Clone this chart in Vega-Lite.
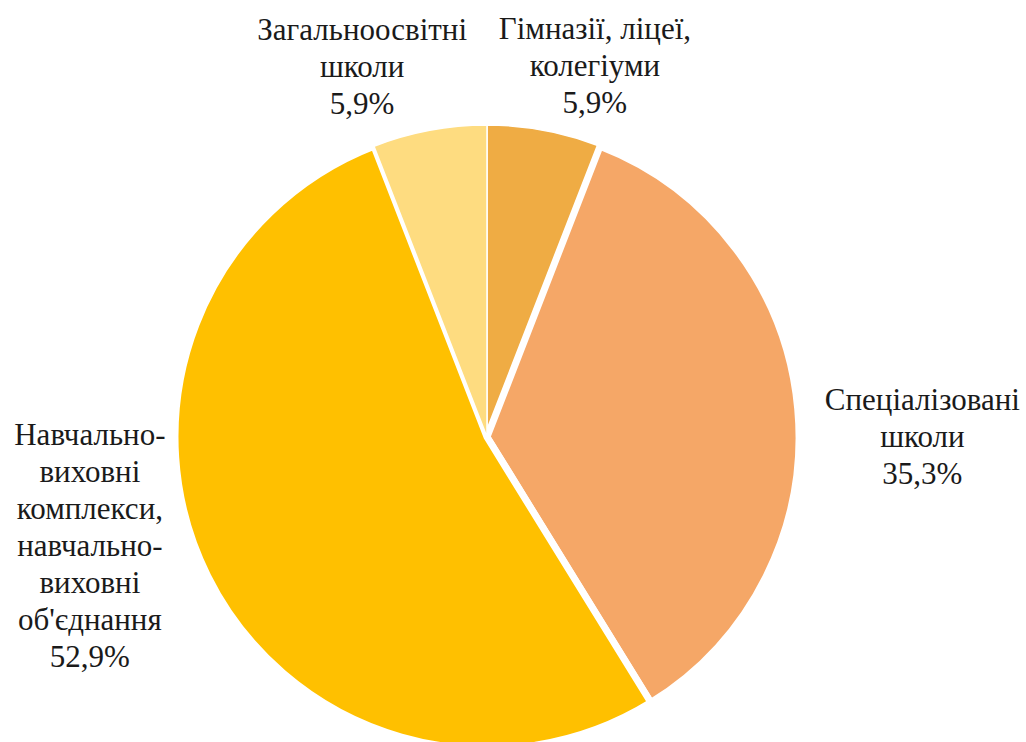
{
  "$schema": "https://vega.github.io/schema/vega-lite/v6.json",
  "width": 974,
  "height": 610,
  "autosize": "none",
  "padding": {"left": 0, "top": 132, "right": 52, "bottom": 0},
  "background": "white",
  "config": {"view": {"stroke": null}},
  "data": {
    "values": [
      {"idx": 1, "category": "Гімназії, ліцеї, колегіуми", "value": 5.9, "label": "Гімназії,  ліцеї,\nколегіуми\n5,9%"},
      {"idx": 2, "category": "Спеціалізовані школи", "value": 35.3, "label": "Спеціалізовані\nшколи\n35,3%"},
      {"idx": 3, "category": "Навчально-виховні комплекси, навчально-виховні об'єднання", "value": 52.9, "label": "Навчально-\nвиховні\nкомплекси,\nнавчально-\nвиховні\nоб'єднання\n52,9%"},
      {"idx": 4, "category": "Загальноосвітні школи", "value": 5.9, "label": "Загальноосвітні\nшколи\n5,9%"}
    ]
  },
  "encoding": {
    "theta": {"field": "value", "type": "quantitative", "stack": true},
    "order": {"field": "idx", "type": "quantitative", "sort": "ascending"}
  },
  "layer": [
    {
      "mark": {"type": "arc", "outerRadius": 312, "stroke": "white"},
      "encoding": {
        "color": {
          "field": "category",
          "type": "nominal",
          "scale": {
            "domain": ["Гімназії, ліцеї, колегіуми", "Спеціалізовані школи", "Навчально-виховні комплекси, навчально-виховні об'єднання", "Загальноосвітні школи"],
            "range": ["#EFAC44", "#F5A767", "#FFC000", "#FEDC80"]
          },
          "legend": null
        },
        "strokeWidth": {"condition": {"test": "datum.value < 10", "value": 1.5}, "value": 7}
      }
    },
    {
      "mark": {"type": "text", "radius": 390, "font": "Liberation Serif", "fontSize": 31, "lineHeight": 37, "lineBreak": "\n", "align": "center", "baseline": "middle", "color": "#1a1a1a", "dx": 36, "dy": -24},
      "encoding": {"text": {"condition": {"test": "datum.idx == 1", "field": "label"}, "value": ""}}
    },
    {
      "mark": {"type": "text", "radius": 390, "font": "Liberation Serif", "fontSize": 31, "lineHeight": 37, "lineBreak": "\n", "align": "center", "baseline": "middle", "color": "#1a1a1a", "dx": 47, "dy": -1},
      "encoding": {"text": {"condition": {"test": "datum.idx == 2", "field": "label"}, "value": ""}}
    },
    {
      "mark": {"type": "text", "radius": 390, "font": "Liberation Serif", "fontSize": 31, "lineHeight": 37, "lineBreak": "\n", "align": "center", "baseline": "middle", "color": "#1a1a1a", "dx": -48, "dy": -175},
      "encoding": {"text": {"condition": {"test": "datum.idx == 3", "field": "label"}, "value": ""}}
    },
    {
      "mark": {"type": "text", "radius": 390, "font": "Liberation Serif", "fontSize": 31, "lineHeight": 37, "lineBreak": "\n", "align": "center", "baseline": "middle", "color": "#1a1a1a", "dx": -53, "dy": -23},
      "encoding": {"text": {"condition": {"test": "datum.idx == 4", "field": "label"}, "value": ""}}
    }
  ]
}
